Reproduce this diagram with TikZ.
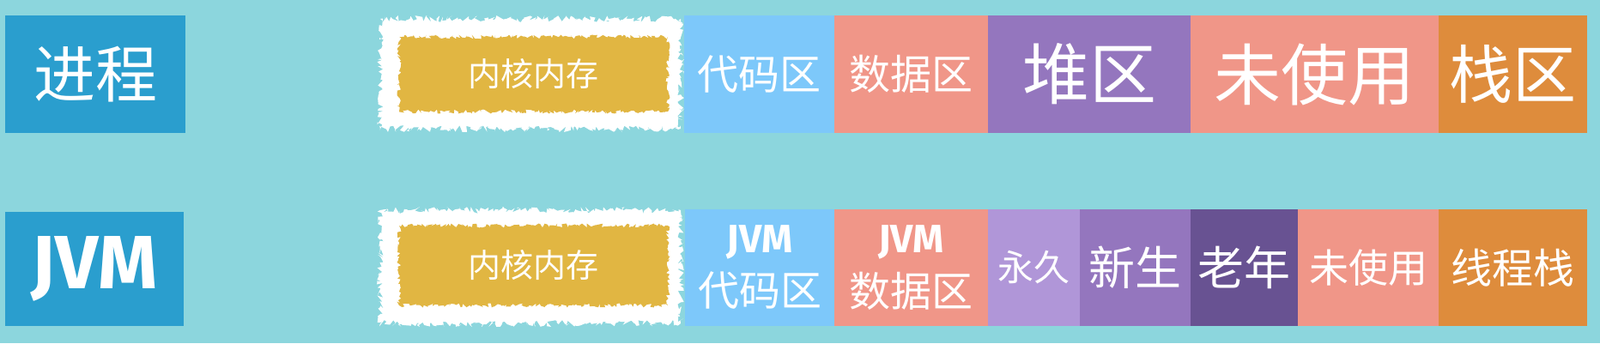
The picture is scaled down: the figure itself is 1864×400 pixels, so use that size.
\documentclass[tikz,border=0pt]{standalone}
\usepackage{fontspec}
\newfontfamily\cjk{Noto Sans CJK SC}
\newfontfamily\jvmfont{Fira Sans}
\usetikzlibrary{positioning,decorations.pathmorphing}
\definecolor{bgcyan}{RGB}{140,214,221}
\definecolor{labelblue}{RGB}{42,158,206}
\definecolor{kernelgold}{RGB}{225,182,66}
\definecolor{codeblue}{RGB}{125,200,250}
\definecolor{salmon}{RGB}{240,150,136}
\definecolor{heappurple}{RGB}{148,118,190}
\definecolor{permpurple}{RGB}{176,150,216}
\definecolor{oldpurple}{RGB}{104,82,146}
\definecolor{stackorange}{RGB}{222,140,60}

\begin{document}
\begin{tikzpicture}[
  x=1pt, y=1pt,
  seg/.style={rectangle, inner sep=0pt, outer sep=0pt, text=white, align=center},
  txt/.style={font=\cjk\fontsize{#1}{#1}\selectfont},
  rough/.style={decorate, decoration={random steps, segment length=2pt, amplitude=#1}},
  toprow/.style={minimum height=137pt},
  botrow/.style={minimum height=136pt}
]
\fill[bgcyan] (0,0) rectangle (1864,400);

% row labels
\node[seg, fill=labelblue, minimum width=210pt, minimum height=137pt, txt=72] (proc) at (111,313.5) {进程};
\node[seg, fill=labelblue, minimum width=208pt, minimum height=133pt,
      font=\jvmfont\bfseries\fontsize{88}{88}\selectfont] (jvm) at (110,86.5) {JVM};

% kernel memory
\node[seg, fill=white, rough=4pt, minimum width=350pt, minimum height=128pt] (kframe) at (618,314) {};
\node[seg, fill=kernelgold, rough=2.5pt, minimum width=313pt, minimum height=87pt, txt=38] (kern) at (621.5,313.5) {内核内存};
\node[seg, fill=white, rough=4pt, minimum width=350pt, minimum height=132pt] (jkframe) at (618,89) {};
\node[seg, fill=kernelgold, rough=2.5pt, minimum width=313pt, minimum height=93pt, txt=38] (jkern) at (621.5,90.5) {内核内存};

% process layout
\node[seg, toprow, fill=codeblue, minimum width=175pt, anchor=west, txt=48] (code) at (797,313.5) {代码区};
\node[seg, toprow, fill=salmon, minimum width=179pt, right=0pt of code, txt=48] (data) {数据区};
\node[seg, toprow, fill=heappurple, minimum width=236pt, right=0pt of data, txt=78] (heap) {堆区};
\node[seg, toprow, fill=salmon, minimum width=289pt, right=0pt of heap, txt=78] (free) {未使用};
\node[seg, toprow, fill=stackorange, minimum width=173pt, right=0pt of free, txt=74] (stack) {栈区};

% jvm layout
\node[seg, botrow, fill=codeblue, minimum width=174pt, anchor=west, txt=48] (jcode) at (798,88)
  {{\jvmfont\bfseries\fontsize{46}{46}\selectfont JVM}\\[14pt]代码区};
\node[seg, botrow, fill=salmon, minimum width=179pt, right=0pt of jcode, txt=48] (jdata)
  {{\jvmfont\bfseries\fontsize{46}{46}\selectfont JVM}\\[14pt]数据区};
\node[seg, botrow, fill=permpurple, minimum width=107pt, right=0pt of jdata, txt=42] (perm) {永久};
\node[seg, botrow, fill=heappurple, minimum width=129pt, right=0pt of perm, txt=54] (young) {新生};
\node[seg, botrow, fill=oldpurple, minimum width=125pt, right=0pt of young, txt=54] (old) {老年};
\node[seg, botrow, fill=salmon, minimum width=164pt, right=0pt of old, txt=46] (jfree) {未使用};
\node[seg, botrow, fill=stackorange, minimum width=173pt, right=0pt of jfree, txt=48] (tstack) {线程栈};

\end{tikzpicture}
\end{document}
